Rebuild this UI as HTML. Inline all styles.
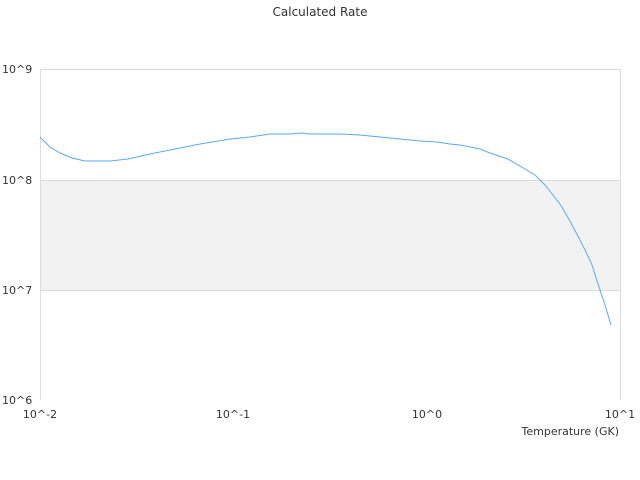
<!DOCTYPE html>
<html><head><meta charset="utf-8"><style>
body{margin:0;background:#fff;}
svg{display:block;font-family:"DejaVu Sans","Liberation Sans",sans-serif;}
</style></head><body>
<svg width="640" height="480" viewBox="0 0 640 480">
<rect width="640" height="480" fill="#fff"/>
<text x="320" y="16" font-size="12" fill="#333" text-anchor="middle">Calculated Rate</text>
<rect x="40" y="180" width="580" height="110" fill="#f2f2f2"/>
<g stroke="#dcdcdc" stroke-width="1" fill="none">
<line x1="40" y1="69.5" x2="620" y2="69.5"/>
<line x1="40" y1="180.5" x2="620" y2="180.5"/>
<line x1="40" y1="290.5" x2="620" y2="290.5"/>
<line x1="40.5" y1="69" x2="40.5" y2="400"/>
<line x1="620.5" y1="69" x2="620.5" y2="400"/>
</g>
<g font-size="11" fill="#333">
<text x="2" y="73">10^9</text>
<text x="2" y="184">10^8</text>
<text x="2" y="294">10^7</text>
<text x="2" y="404">10^6</text>
<text x="40" y="418" text-anchor="middle">10^-2</text>
<text x="233" y="418" text-anchor="middle">10^-1</text>
<text x="427" y="418" text-anchor="middle">10^0</text>
<text x="620" y="418" text-anchor="middle">10^1</text>
<text x="619" y="435" text-anchor="end">Temperature (GK)</text>
</g>
<polyline fill="none" stroke="#5aa9f0" stroke-width="1" points="40,137 50,147 60,153 72,158 85,161 95,161 110,161 128,159 150,154 180,148 200,144 230,139 250,137 270,134 290,134 302,133 310,134 340,134 360,135 380,137 400,139 420,141 437,142 450,144 460,145 480,149 490,153 508,159 520,166 535,175 545,185 553,195 562,207 571,223 580,240 587,254 592,265 600,290 605,305 611,325"/>
</svg>
</body></html>
